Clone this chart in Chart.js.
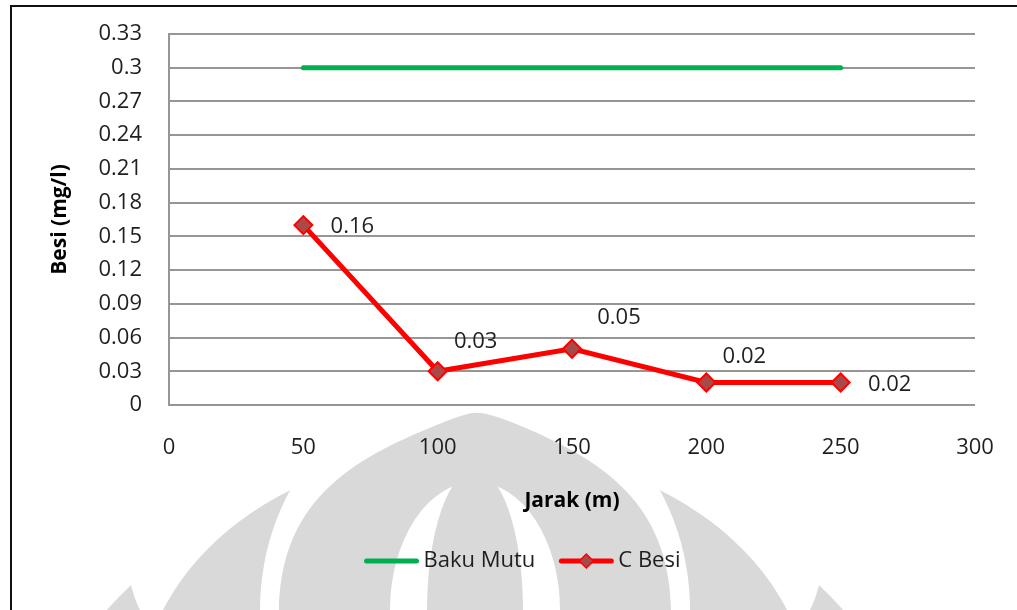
<!DOCTYPE html>
<html>
<head>
<meta charset="utf-8">
<script src="https://cdn.jsdelivr.net/npm/chart.js@4/dist/chart.umd.min.js"></script>
<style>
  html, body { margin: 0; padding: 0; background: #ffffff; }
  #wrap { width: 1017px; height: 610px; position: relative; }
</style>
</head>
<body>
<div id="wrap"><canvas id="chart" width="1017" height="610"></canvas></div>
<script>
// Distance along the river (m) and measured iron concentration (mg/l)
const jarak = [50, 100, 150, 200, 250];
const bakuMutu = [0.3, 0.3, 0.3, 0.3, 0.3];
const cBesi = [0.16, 0.03, 0.05, 0.02, 0.02];

// Axis ticks
const xTicks = [0, 50, 100, 150, 200, 250, 300];
const yTicks = [0, 0.03, 0.06, 0.09, 0.12, 0.15, 0.18, 0.21, 0.24, 0.27, 0.3, 0.33];

const FONT = '"Open Sans", "Liberation Sans", sans-serif';
const TEXT = '#1f1f1f';
const GRID = '#969696';
const GREEN = '#00B050';
const RED = '#FF0000';
const MARKER = '#A84A4A';

// faint emblem behind the lower part of the page, built from stacked shapes
const emblemPlugin = {
  id: 'emblem',
  beforeDraw(chart) {
    const ctx = chart.ctx;
    ctx.save();
    ctx.fillStyle = '#ffffff';
    ctx.fillRect(0, 0, chart.width, chart.height);
    const g = '#d9d9d9', w = '#ffffff';
    const ell = (c, cx, cy, rx, ry) => {
      ctx.fillStyle = c;
      ctx.beginPath();
      ctx.ellipse(cx, cy, rx, ry, 0, 0, Math.PI * 2);
      ctx.fill();
    };
    ell(g, 475, 760, 428, 294);
    ell(w, 475, 560, 347, 192);
    ell(g, 475, 700, 334, 252);
    ell(w, 475, 610, 215, 235);
    // central dome with a slightly pointed crown
    ctx.fillStyle = g;
    ctx.beginPath();
    ctx.moveTo(280, 640);
    ctx.bezierCurveTo(270, 520, 330, 470, 420, 432);
    ctx.quadraticCurveTo(470, 410, 478, 413);
    ctx.quadraticCurveTo(490, 412, 535, 432);
    ctx.bezierCurveTo(620, 470, 680, 520, 670, 640);
    ctx.closePath();
    ctx.fill();
    ell(w, 475, 610, 85, 128);
    ell(g, 475, 610, 48, 140);
    ctx.restore();
  }
};

// value labels next to the C Besi markers
const valueLabelPlugin = {
  id: 'valueLabels',
  afterDatasetsDraw(chart, args, opts) {
    const meta = chart.getDatasetMeta(1);
    const ctx = chart.ctx;
    ctx.save();
    ctx.font = '22px ' + FONT;
    ctx.fillStyle = TEXT;
    ctx.textAlign = 'center';
    ctx.textBaseline = 'middle';
    meta.data.forEach((pt, i) => {
      const [dx, dy] = opts.offsets[i];
      ctx.fillText(String(cBesi[i]), pt.x + dx, pt.y + dy);
    });
    ctx.restore();
  }
};

// legend row and outer frame
const legendFramePlugin = {
  id: 'legendFrame',
  afterDraw(chart) {
    const ctx = chart.ctx;
    ctx.save();
    ctx.font = '22px ' + FONT;
    ctx.textBaseline = 'middle';
    ctx.textAlign = 'left';
    const y = 561;
    const lineLen = 54, gapText = 5, gapItem = 24;
    const names = chart.data.datasets.map(d => d.label);
    const widths = names.map(n => ctx.measureText(n).width);
    const total = (lineLen + gapText) * 2 + widths[0] + gapItem + widths[1];
    let x = 522.5 - total / 2;
    chart.data.datasets.forEach((ds, i) => {
      ctx.strokeStyle = ds.borderColor;
      ctx.lineWidth = 5;
      ctx.lineCap = 'round';
      ctx.beginPath();
      ctx.moveTo(x + 2, y);
      ctx.lineTo(x + lineLen - 2, y);
      ctx.stroke();
      if (ds.pointRadius > 0) {
        const cx = x + lineLen / 2, r = 7;
        ctx.beginPath();
        ctx.moveTo(cx - r, y);
        ctx.lineTo(cx, y - r);
        ctx.lineTo(cx + r, y);
        ctx.lineTo(cx, y + r);
        ctx.closePath();
        ctx.fillStyle = ds.pointBackgroundColor;
        ctx.fill();
        ctx.lineWidth = 1.5;
        ctx.strokeStyle = ds.pointBorderColor;
        ctx.stroke();
      }
      ctx.fillStyle = TEXT;
      ctx.fillText(names[i], x + lineLen + gapText, y);
      x += lineLen + gapText + widths[i] + gapItem;
    });
    // frame
    ctx.fillStyle = '#111111';
    ctx.fillRect(10, 5, chart.width - 10, 2);
    ctx.fillRect(10, 5, 2, chart.height - 5);
    ctx.restore();
  }
};

new Chart(document.getElementById('chart'), {
  type: 'line',
  data: {
    datasets: [
      {
        label: 'Baku Mutu',
        data: jarak.map((x, i) => ({ x, y: bakuMutu[i] })),
        borderColor: GREEN,
        backgroundColor: GREEN,
        borderWidth: 5,
        borderCapStyle: 'round',
        pointRadius: 0,
        pointHoverRadius: 0,
        fill: false
      },
      {
        label: 'C Besi',
        data: jarak.map((x, i) => ({ x, y: cBesi[i] })),
        borderColor: RED,
        backgroundColor: MARKER,
        borderWidth: 5,
        borderJoinStyle: 'miter',
        pointStyle: 'rectRot',
        pointRadius: 9,
        pointHoverRadius: 9,
        pointBackgroundColor: MARKER,
        pointBorderColor: RED,
        pointBorderWidth: 2,
        fill: false
      }
    ]
  },
  options: {
    responsive: false,
    animation: false,
    events: [],
    layout: { padding: { left: 0, top: 34, right: 42, bottom: 0 } },
    plugins: {
      legend: { display: false },
      tooltip: { enabled: false },
      valueLabels: {
        offsets: [[49, 2], [38, -30], [47, -31], [38, -26], [49, 2]]
      }
    },
    scales: {
      x: {
        type: 'linear',
        min: 0,
        max: 300,
        afterBuildTicks(scale) { scale.ticks = xTicks.map(v => ({ value: v })); },
        afterFit(scale) {
          scale.height = 205;
          scale.paddingLeft = 0;
          scale.paddingRight = 0;
        },
        grid: { display: false, drawTicks: false },
        border: { display: false },
        ticks: {
          padding: 30,
          color: TEXT,
          font: { family: FONT, size: 22 },
          maxRotation: 0
        },
        title: {
          display: true,
          text: 'Jarak (m)',
          color: '#000000',
          font: { family: FONT, size: 21, weight: 'bold' },
          padding: { top: 0, bottom: 96 }
        }
      },
      y: {
        type: 'linear',
        min: 0,
        max: 0.33,
        afterBuildTicks(scale) { scale.ticks = yTicks.map(v => ({ value: v })); },
        afterFit(scale) {
          scale.width = 169;
          scale.paddingTop = 0;
          scale.paddingBottom = 0;
        },
        grid: { color: GRID, lineWidth: 2, drawTicks: false },
        border: { display: true, color: GRID, width: 2 },
        ticks: {
          padding: 27,
          color: TEXT,
          font: { family: FONT, size: 22 },
          callback: v => String(parseFloat(Number(v).toFixed(2)))
        },
        title: {
          display: true,
          text: 'Besi (mg/l)',
          color: '#000000',
          font: { family: FONT, size: 21, weight: 'bold' },
          padding: { top: 47, bottom: 0 }
        }
      }
    }
  },
  plugins: [emblemPlugin, valueLabelPlugin, legendFramePlugin]
});
</script>
</body>
</html>
